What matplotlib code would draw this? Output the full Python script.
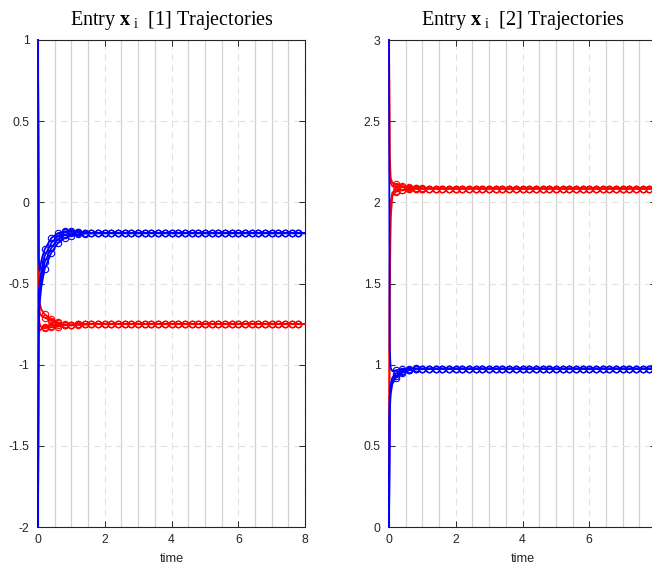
import matplotlib
matplotlib.use('Agg')
import matplotlib.pyplot as plt
from matplotlib.ticker import MultipleLocator

plt.rcParams['font.family'] = ['Liberation Sans', 'DejaVu Sans']
plt.rcParams['axes.unicode_minus'] = False
plt.rcParams['mathtext.fontset'] = 'custom'
plt.rcParams['mathtext.rm'] = 'Liberation Serif'
plt.rcParams['mathtext.bf'] = 'Liberation Serif:bold'
plt.rcParams['mathtext.it'] = 'Liberation Serif:italic'

# ---------------- data ----------------
t = [0, 0.02, 0.05, 0.1, 0.2, 0.4, 0.6, 0.8, 1.0, 1.2, 1.4, 1.6, 1.8, 2.0,
     2.2, 2.4, 2.6, 2.8, 3.0, 3.2, 3.4, 3.6, 3.8, 4.0, 4.2, 4.4, 4.6, 4.8,
     5.0, 5.2, 5.4, 5.6, 5.8, 6.0, 6.2, 6.4, 6.6, 6.8, 7.0, 7.2, 7.4, 7.6,
     7.8, 8.0]

# Entry x_i[1]
x1_red_1 = [1, -0.50, -0.62, -0.66, -0.69, -0.72, -0.74, -0.755, -0.758, -0.755, -0.752, -0.75, -0.75, -0.75,
            -0.75, -0.75, -0.75, -0.75, -0.75, -0.75, -0.75, -0.75, -0.75, -0.75, -0.75, -0.75, -0.75, -0.75,
            -0.75, -0.75, -0.75, -0.75, -0.75, -0.75, -0.75, -0.75, -0.75, -0.75, -0.75, -0.75, -0.75, -0.75,
            -0.75, -0.75]
x1_red_2 = [1, -0.60, -0.68, -0.70, -0.71, -0.73, -0.745, -0.752, -0.754, -0.752, -0.751, -0.75, -0.75, -0.75,
            -0.75, -0.75, -0.75, -0.75, -0.75, -0.75, -0.75, -0.75, -0.75, -0.75, -0.75, -0.75, -0.75, -0.75,
            -0.75, -0.75, -0.75, -0.75, -0.75, -0.75, -0.75, -0.75, -0.75, -0.75, -0.75, -0.75, -0.75, -0.75,
            -0.75, -0.75]
x1_red_3 = [1, -0.70, -0.75, -0.77, -0.775, -0.77, -0.765, -0.758, -0.754, -0.752, -0.751, -0.75, -0.75, -0.75,
            -0.75, -0.75, -0.75, -0.75, -0.75, -0.75, -0.75, -0.75, -0.75, -0.75, -0.75, -0.75, -0.75, -0.75,
            -0.75, -0.75, -0.75, -0.75, -0.75, -0.75, -0.75, -0.75, -0.75, -0.75, -0.75, -0.75, -0.75, -0.75,
            -0.75, -0.75]
x1_red_4 = [1, -0.80, -0.79, -0.78, -0.765, -0.76, -0.757, -0.755, -0.753, -0.751, -0.75, -0.75, -0.75, -0.75,
            -0.75, -0.75, -0.75, -0.75, -0.75, -0.75, -0.75, -0.75, -0.75, -0.75, -0.75, -0.75, -0.75, -0.75,
            -0.75, -0.75, -0.75, -0.75, -0.75, -0.75, -0.75, -0.75, -0.75, -0.75, -0.75, -0.75, -0.75, -0.75,
            -0.75, -0.75]
x1_blue_1 = [1, -0.35, -0.42, -0.36, -0.29, -0.22, -0.19, -0.178, -0.178, -0.183, -0.187, -0.19, -0.19, -0.19,
             -0.19, -0.19, -0.19, -0.19, -0.19, -0.19, -0.19, -0.19, -0.19, -0.19, -0.19, -0.19, -0.19, -0.19,
             -0.19, -0.19, -0.19, -0.19, -0.19, -0.19, -0.19, -0.19, -0.19, -0.19, -0.19, -0.19, -0.19, -0.19,
             -0.19, -0.19]
x1_blue_2 = [-2, -0.55, -0.50, -0.42, -0.33, -0.25, -0.205, -0.185, -0.18, -0.184, -0.188, -0.19, -0.19, -0.19,
             -0.19, -0.19, -0.19, -0.19, -0.19, -0.19, -0.19, -0.19, -0.19, -0.19, -0.19, -0.19, -0.19, -0.19,
             -0.19, -0.19, -0.19, -0.19, -0.19, -0.19, -0.19, -0.19, -0.19, -0.19, -0.19, -0.19, -0.19, -0.19,
             -0.19, -0.19]
x1_blue_3 = [-2, -0.65, -0.56, -0.47, -0.37, -0.28, -0.225, -0.20, -0.19, -0.187, -0.188, -0.19, -0.19, -0.19,
             -0.19, -0.19, -0.19, -0.19, -0.19, -0.19, -0.19, -0.19, -0.19, -0.19, -0.19, -0.19, -0.19, -0.19,
             -0.19, -0.19, -0.19, -0.19, -0.19, -0.19, -0.19, -0.19, -0.19, -0.19, -0.19, -0.19, -0.19, -0.19,
             -0.19, -0.19]
x1_blue_4 = [-2, -0.75, -0.62, -0.52, -0.41, -0.31, -0.25, -0.22, -0.205, -0.197, -0.193, -0.191, -0.19, -0.19,
             -0.19, -0.19, -0.19, -0.19, -0.19, -0.19, -0.19, -0.19, -0.19, -0.19, -0.19, -0.19, -0.19, -0.19,
             -0.19, -0.19, -0.19, -0.19, -0.19, -0.19, -0.19, -0.19, -0.19, -0.19, -0.19, -0.19, -0.19, -0.19,
             -0.19, -0.19]

# Entry x_i[2]
x2_red_1 = [3, 2.30, 2.15, 2.12, 2.11, 2.10, 2.092, 2.088, 2.086, 2.085, 2.085, 2.085, 2.085, 2.085,
            2.085, 2.085, 2.085, 2.085, 2.085, 2.085, 2.085, 2.085, 2.085, 2.085, 2.085, 2.085, 2.085, 2.085,
            2.085, 2.085, 2.085, 2.085, 2.085, 2.085, 2.085, 2.085, 2.085, 2.085, 2.085, 2.085, 2.085, 2.085,
            2.085, 2.085]
x2_red_2 = [3, 2.20, 2.12, 2.10, 2.10, 2.095, 2.09, 2.087, 2.085, 2.085, 2.085, 2.085, 2.085, 2.085,
            2.085, 2.085, 2.085, 2.085, 2.085, 2.085, 2.085, 2.085, 2.085, 2.085, 2.085, 2.085, 2.085, 2.085,
            2.085, 2.085, 2.085, 2.085, 2.085, 2.085, 2.085, 2.085, 2.085, 2.085, 2.085, 2.085, 2.085, 2.085,
            2.085, 2.085]
x2_red_3 = [0, 1.60, 2.00, 2.06, 2.07, 2.078, 2.082, 2.084, 2.085, 2.085, 2.085, 2.085, 2.085, 2.085,
            2.085, 2.085, 2.085, 2.085, 2.085, 2.085, 2.085, 2.085, 2.085, 2.085, 2.085, 2.085, 2.085, 2.085,
            2.085, 2.085, 2.085, 2.085, 2.085, 2.085, 2.085, 2.085, 2.085, 2.085, 2.085, 2.085, 2.085, 2.085,
            2.085, 2.085]
x2_red_4 = [0, 1.40, 1.90, 2.04, 2.065, 2.075, 2.08, 2.083, 2.085, 2.085, 2.085, 2.085, 2.085, 2.085,
            2.085, 2.085, 2.085, 2.085, 2.085, 2.085, 2.085, 2.085, 2.085, 2.085, 2.085, 2.085, 2.085, 2.085,
            2.085, 2.085, 2.085, 2.085, 2.085, 2.085, 2.085, 2.085, 2.085, 2.085, 2.085, 2.085, 2.085, 2.085,
            2.085, 2.085]
x2_blue_1 = [3, 1.10, 0.98, 0.96, 0.965, 0.972, 0.976, 0.977, 0.976, 0.975, 0.975, 0.975, 0.975, 0.975,
             0.975, 0.975, 0.975, 0.975, 0.975, 0.975, 0.975, 0.975, 0.975, 0.975, 0.975, 0.975, 0.975, 0.975,
             0.975, 0.975, 0.975, 0.975, 0.975, 0.975, 0.975, 0.975, 0.975, 0.975, 0.975, 0.975, 0.975, 0.975,
             0.975, 0.975]
x2_blue_2 = [0, 0.75, 0.85, 0.90, 0.93, 0.955, 0.967, 0.972, 0.974, 0.975, 0.975, 0.975, 0.975, 0.975,
             0.975, 0.975, 0.975, 0.975, 0.975, 0.975, 0.975, 0.975, 0.975, 0.975, 0.975, 0.975, 0.975, 0.975,
             0.975, 0.975, 0.975, 0.975, 0.975, 0.975, 0.975, 0.975, 0.975, 0.975, 0.975, 0.975, 0.975, 0.975,
             0.975, 0.975]
x2_blue_3 = [0, 0.70, 0.82, 0.88, 0.92, 0.95, 0.965, 0.971, 0.974, 0.975, 0.975, 0.975, 0.975, 0.975,
             0.975, 0.975, 0.975, 0.975, 0.975, 0.975, 0.975, 0.975, 0.975, 0.975, 0.975, 0.975, 0.975, 0.975,
             0.975, 0.975, 0.975, 0.975, 0.975, 0.975, 0.975, 0.975, 0.975, 0.975, 0.975, 0.975, 0.975, 0.975,
             0.975, 0.975]
x2_blue_4 = [0, 0.80, 0.88, 0.92, 0.945, 0.962, 0.97, 0.974, 0.975, 0.975, 0.975, 0.975, 0.975, 0.975,
             0.975, 0.975, 0.975, 0.975, 0.975, 0.975, 0.975, 0.975, 0.975, 0.975, 0.975, 0.975, 0.975, 0.975,
             0.975, 0.975, 0.975, 0.975, 0.975, 0.975, 0.975, 0.975, 0.975, 0.975, 0.975, 0.975, 0.975, 0.975,
             0.975, 0.975]

titles = [r'Entry $\mathbf{x}_{\ \mathrm{i}}$  [1] Trajectories',
          r'Entry $\mathbf{x}_{\ \mathrm{i}}$  [2] Trajectories']
x_ticks = [0, 2, 4, 6, 8]
y_ticks_1 = [-2, -1.5, -1, -0.5, 0, 0.5, 1]
y_tick_labels_1 = ['-2', '-1.5', '-1', '-0.5', '0', '0.5', '1']
y_ticks_2 = [0, 0.5, 1, 1.5, 2, 2.5, 3]
y_tick_labels_2 = ['0', '0.5', '1', '1.5', '2', '2.5', '3']
xlabel = 'time'

# ---------------- figure ----------------
fig = plt.figure(figsize=(6.52, 5.68), dpi=100)
W, H = 652, 568
ax1 = fig.add_axes([38 / W, 1 - 527 / H, 267 / W, 487 / H])
ax2 = fig.add_axes([389 / W, 1 - 527 / H, 267 / W, 487 / H])

RED = '#ff0000'
BLUE = '#0000ff'
style = dict(linewidth=1.3, marker='o', markersize=4.6, markerfacecolor='none',
             markeredgewidth=0.8, markevery=slice(4, 43), clip_on=False)

panels = [
    (ax1, [x1_red_1, x1_red_2, x1_red_3, x1_red_4], [x1_blue_1, x1_blue_2, x1_blue_3, x1_blue_4],
     y_ticks_1, y_tick_labels_1, (-2, 1), titles[0]),
    (ax2, [x2_red_1, x2_red_2, x2_red_3, x2_red_4], [x2_blue_1, x2_blue_2, x2_blue_3, x2_blue_4],
     y_ticks_2, y_tick_labels_2, (0, 3), titles[1]),
]

for ax, reds, blues, yt, ytl, ylim, title in panels:
    for s in reds:
        ax.plot(t, s, color=RED, zorder=3, **style)
    for s in blues:
        ax.plot(t, s, color=BLUE, zorder=3, **style)
    ax.set_xlim(0, 8)
    ax.set_ylim(*ylim)
    ax.set_xticks(x_ticks)
    ax.set_xticklabels([str(v) for v in x_ticks])
    ax.set_yticks(yt)
    ax.set_yticklabels(ytl)
    ax.xaxis.set_minor_locator(MultipleLocator(0.5))
    ax.set_axisbelow(True)
    ax.grid(True, which='major', linestyle=(0, (6, 4)), color='#e2e2e2', linewidth=0.8)
    ax.xaxis.grid(True, which='minor', linestyle='-', color='#d2d2d2', linewidth=0.9)
    ax.tick_params(which='major', direction='in', top=True, right=True, length=4,
                   width=0.7, colors='#262626', labelsize=8.8)
    ax.tick_params(axis='y', which='major', pad=6)
    ax.tick_params(axis='x', which='major', pad=5)
    ax.tick_params(which='minor', length=0)
    for sp in ax.spines.values():
        sp.set_color('#262626')
        sp.set_linewidth(0.8)
        sp.set_zorder(2.5)
    ax.set_xlabel(xlabel, fontsize=9.2, color='#262626', labelpad=5)
    ax.set_title(title, fontfamily='Liberation Serif', fontsize=14.5, pad=11)

fig.savefig('out.png', dpi=100)
